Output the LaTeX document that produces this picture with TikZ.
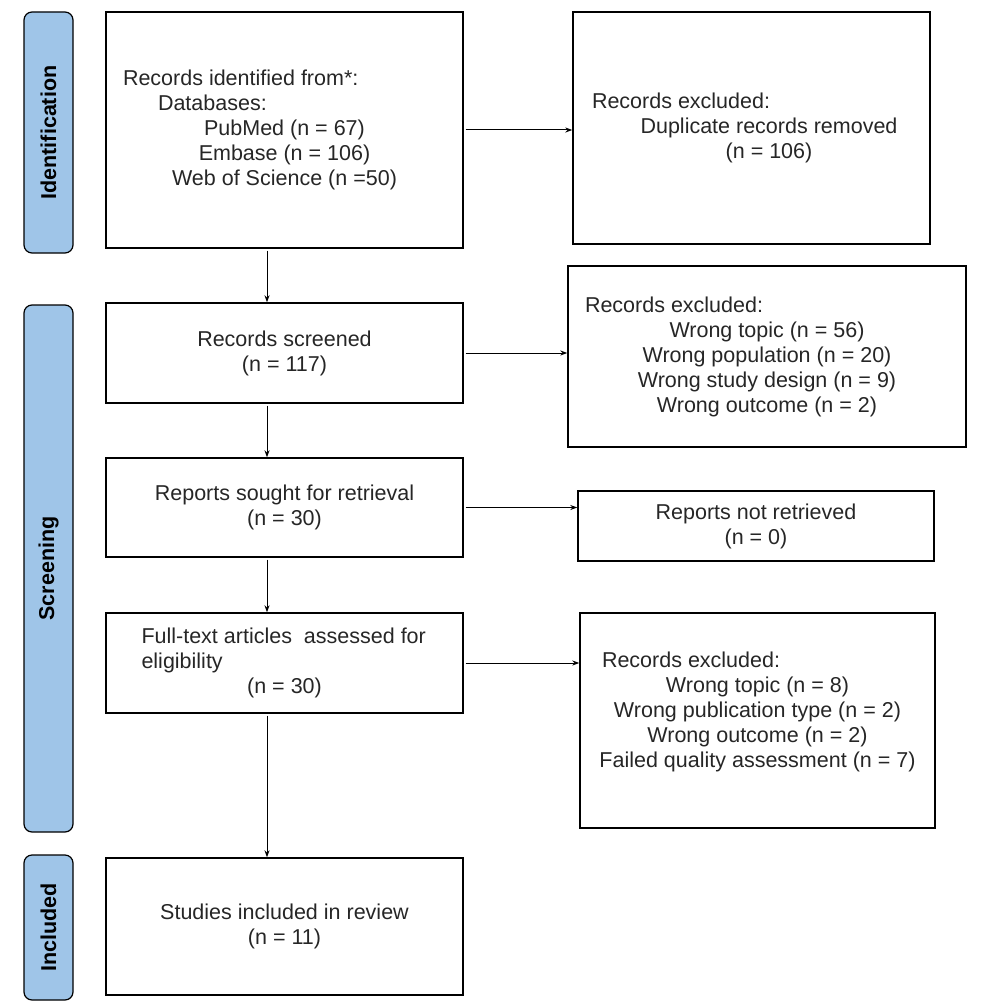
\documentclass[tikz,border=0pt]{standalone}
\usepackage{fontspec}
\setmainfont{Liberation Sans}
\usetikzlibrary{arrows.meta}
\definecolor{stageblue}{HTML}{9FC5E8}
\begin{document}
\begin{tikzpicture}[x=1pt,y=-1pt,
  box/.style={draw, line width=1.4pt, inner sep=0pt, align=center,
    font=\fontsize{21.5}{25}\selectfont, text=black!85},
  stage/.style={draw, line width=1.2pt, fill=stageblue, rounded corners=8pt,
    rotate=90, inner sep=0pt, minimum height=49,
    font=\bfseries\fontsize{21.5}{25}\selectfont},
  arr/.style={-{Stealth[length=7pt,width=5pt]}, line width=1pt, shorten <=2pt}]
  \useasboundingbox (0,0) rectangle (986,1008);
  % stages
  \node[stage, minimum width=241] (ident) at (48.5,132.5) {Identification};
  \node[stage, minimum width=527] (screen) at (48.5,568.5) {Screening};
  \node[stage, minimum width=145] (incl) at (48.5,927.5) {Included};
  % main column
  \node[box, minimum width=357, minimum height=236] (found) at (284.5,130)
    {\makebox[323pt][l]{Records identified from*:}\\
     \makebox[323pt][l]{\hspace{35pt}Databases:}\\
     PubMed (n = 67)\\ Embase (n = 106)\\ Web of Science (n =50)};
  \node[box, minimum width=357, minimum height=100] (screened) at (284.5,353)
    {Records screened\\ (n = 117)};
  \node[box, minimum width=357, minimum height=99] (sought) at (284.5,507.5)
    {Reports sought for retrieval\\ (n = 30)};
  \node[box, minimum width=357, minimum height=100] (fulltext) at (284.5,663)
    {\makebox[286pt][l]{Full-text articles\ \ assessed for}\\
     \makebox[286pt][l]{eligibility}\\ (n = 30)};
  \node[box, minimum width=357, minimum height=137] (included) at (284.5,926.5)
    {Studies included in review\\ (n = 11)};
  % exclusions
  \node[box, minimum width=357, minimum height=232] (dup) at (751.5,128)
    {\makebox[319pt][l]{Records excluded:}\\
     \hspace*{35pt}Duplicate records removed\\ \hspace*{35pt}(n = 106)};
  \node[box, minimum width=398, minimum height=181] (excl1) at (767,356.5)
    {\makebox[364pt][l]{Records excluded:}\\ Wrong topic (n = 56)\\
     Wrong population (n = 20)\\ Wrong study design (n = 9)\\
     Wrong outcome (n = 2)};
  \node[box, minimum width=356, minimum height=70] (notret) at (756,526)
    {Reports not retrieved\\ (n = 0)};
  \node[box, minimum width=355, minimum height=215] (excl2) at (757.5,720.5)
    {\makebox[311pt][l]{Records excluded:}\\ Wrong topic (n = 8)\\
     Wrong publication type (n = 2)\\ Wrong outcome (n = 2)\\
     Failed quality assessment (n = 7)\\[-4pt]};
  % arrows
  \coordinate (ax) at (267,0);
  \draw[arr] (found.south -| ax) -- (screened.north -| ax);
  \draw[arr] (screened.south -| ax) -- (sought.north -| ax);
  \draw[arr] (sought.south -| ax) -- (fulltext.north -| ax);
  \draw[arr] (fulltext.south -| ax) -- (included.north -| ax);
  \draw[arr] (found.east) -- (found.east -| dup.west);
  \draw[arr] (screened.east) -- (screened.east -| excl1.west);
  \draw[arr] (sought.east) -- (sought.east -| notret.west);
  \draw[arr] (fulltext.east) -- (fulltext.east -| excl2.west);
\end{tikzpicture}
\end{document}
